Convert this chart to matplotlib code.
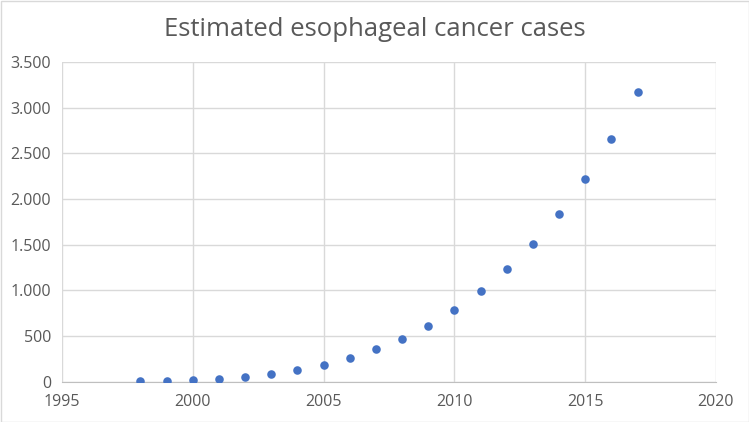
import matplotlib
matplotlib.use("Agg")
import matplotlib.pyplot as plt
from matplotlib.ticker import FuncFormatter
from matplotlib.patches import Rectangle

years = [1998, 1999, 2000, 2001, 2002, 2003, 2004, 2005, 2006, 2007,
         2008, 2009, 2010, 2011, 2012, 2013, 2014, 2015, 2016, 2017]
cases = [3, 8, 17, 30, 50, 83, 127, 186, 258, 352,
         468, 612, 785, 990, 1228, 1508, 1833, 2215, 2657, 3166]

title = "Estimated esophageal cancer cases"
x_ticks = [1995, 2000, 2005, 2010, 2015, 2020]
y_ticks = [0, 500, 1000, 1500, 2000, 2500, 3000, 3500]

plt.rcParams['font.family'] = ['Open Sans', 'DejaVu Sans']
text_col = "#595959"
grid_col = "#d9d9d9"

fig = plt.figure(figsize=(7.49, 4.22), dpi=100)
ax = fig.add_axes([62/749, 1-381.5/422, (716-62)/749, (381.5-62)/422])

ax.scatter(years, cases, s=38, color="#4472C4", zorder=3, linewidths=0)

ax.set_xlim(1995, 2020)
ax.set_ylim(0, 3500)
ax.set_xticks(x_ticks)
ax.set_yticks(y_ticks)
ax.yaxis.set_major_formatter(FuncFormatter(lambda v, p: f"{int(v):,}".replace(",", ".")))
ax.grid(True, color=grid_col, linewidth=1)
ax.set_axisbelow(True)
for s in ["top", "right", "left"]:
    ax.spines[s].set_visible(False)
ax.spines["bottom"].set_color("#bfbfbf")
ax.tick_params(length=0, labelsize=11.5, labelcolor=text_col)
ax.tick_params(axis="x", pad=9)
ax.tick_params(axis="y", pad=8)

fig.text(0.5, 1-30/422, title, ha="center", va="center", fontsize=18.5, color=text_col)

fig.patches.append(Rectangle((0.5/749, 0.5/422), 1-1/749, 1-1/422, transform=fig.transFigure,
                             fill=False, edgecolor=grid_col, linewidth=1))

fig.savefig("out.png", dpi=100)
